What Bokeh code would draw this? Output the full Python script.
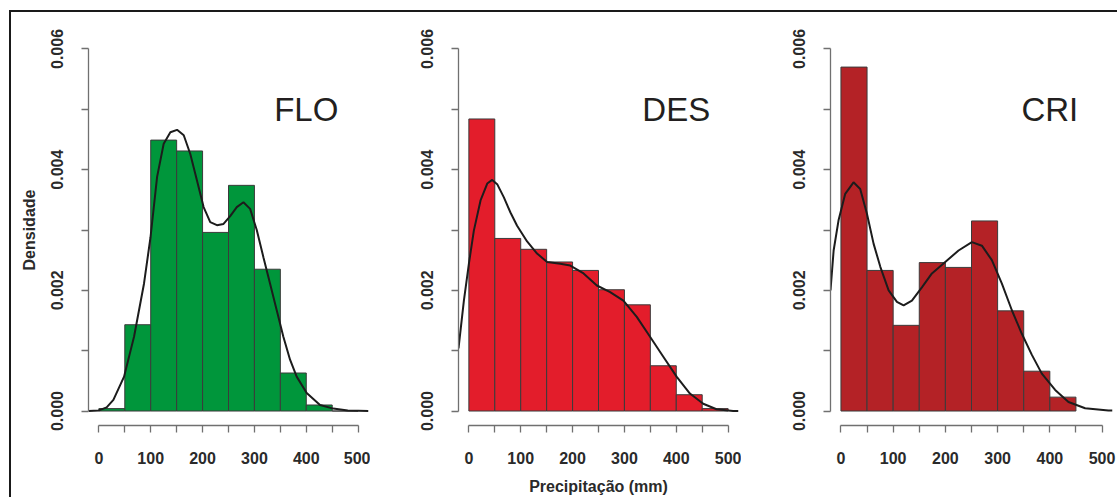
from bokeh.plotting import figure
from bokeh.layouts import row
from bokeh.models import Range1d, FixedTicker, PrintfTickFormatter
from bokeh.core.properties import value
from bokeh.embed import file_html
from bokeh.resources import INLINE

# ---------------- data ----------------
bin_left = [0, 50, 100, 150, 200, 250, 300, 350, 400, 450]
bin_right = [50, 100, 150, 200, 250, 300, 350, 400, 450, 500]

flo_hist = [0.00004, 0.00143, 0.00449, 0.00431, 0.00296, 0.00374, 0.00235, 0.00063, 0.00010, 0.0]
des_hist = [0.00484, 0.00286, 0.00268, 0.00247, 0.00233, 0.00201, 0.00176, 0.00075, 0.00027, 0.00004]
cri_hist = [0.00570, 0.00233, 0.00142, 0.00246, 0.00238, 0.00315, 0.00166, 0.00066, 0.00023]

flo_kde_x = [-20, 0, 15, 28, 48.6, 67.8, 87, 99.6, 112.3, 125, 137.9, 150.8, 163.7, 176.3, 189.2,
             202, 214.8, 227.7, 240.4, 253.3, 266, 278.8, 291.7, 304.5, 317.3, 330.2, 343,
             355.8, 368.7, 381.5, 400.8, 426.5, 452, 480, 520]
flo_kde_y = [0.0, 0.00001, 0.00006, 0.000185, 0.00057, 0.00123, 0.00211, 0.00288, 0.00388, 0.00443,
             0.00462, 0.00466, 0.00457, 0.00426, 0.00382, 0.00338, 0.00313, 0.00308, 0.00310,
             0.00323, 0.00338, 0.00346, 0.00335, 0.00300, 0.00255, 0.00211, 0.00167, 0.00123,
             0.00085, 0.00057, 0.00030, 0.00010, 0.00004, 0.00001, 0.0]

des_kde_x = [-20, -9.6, 0, 9.6, 22.5, 35.4, 45, 54.6, 67.5, 80.2, 93, 112.3, 131.5, 150.8, 176.3,
             195.6, 221.2, 246.8, 272.5, 298, 323.8, 349.4, 375, 400.6, 426.3, 452, 477.6, 509.6, 520]
des_kde_y = [0.00104, 0.00183, 0.00244, 0.00299, 0.00349, 0.00377, 0.00383, 0.00376, 0.00354,
             0.00329, 0.00307, 0.00281, 0.00261, 0.00247, 0.00244, 0.00241, 0.00228, 0.00208,
             0.00197, 0.00183, 0.00156, 0.00123, 0.00090, 0.00057, 0.00029, 0.00012, 0.00003,
             0.0, 0.0]

cri_kde_x = [-20, -14, -4.6, 8.2, 24.1, 36.9, 49.8, 62.6, 75.4, 91.3, 107.2, 120, 135.9, 155,
             174.2, 199.7, 225.2, 250.7, 269.9, 289, 308.2, 327.3, 346.4, 365.6, 384.7, 410.2,
             435.7, 467.6, 512.2, 520]
cri_kde_y = [0.00200, 0.00266, 0.00316, 0.00360, 0.00379, 0.00368, 0.00327, 0.00277, 0.00239,
             0.00200, 0.00181, 0.00175, 0.00183, 0.00205, 0.00228, 0.00247, 0.00266, 0.00280,
             0.00274, 0.00250, 0.00211, 0.00167, 0.00128, 0.00093, 0.00062, 0.00035, 0.00015,
             0.000045, 0.00001, 0.00001]

panel_names = ["FLO", "DES", "CRI"]
panel_colors = ["#00963b", "#e31d2b", "#b42226"]

x_major = [0, 100, 200, 300, 400, 500]
x_minor = [50, 150, 250, 350, 450]
y_major = [0.0, 0.002, 0.004, 0.006]
y_minor = [0.001, 0.003, 0.005]

FONT = "Liberation Sans"
AXIS_COL = "#707070"
TXT_COL = "#2a2a2a"
FRAME_COL = "#1a1a1a"


def make_panel(name, color, lefts, rights, dens, kx, ky, width, bl, br, ylab, xlab, first):
    p = figure(width=width, height=497,
               x_range=Range1d(-20, 520), y_range=Range1d(-0.00024, 0.00624),
               output_backend="svg", toolbar_location=None,
               min_border_left=bl, min_border_right=br,
               min_border_top=34, min_border_bottom=71)
    p.outline_line_color = None
    p.grid.visible = False
    p.background_fill_color = None
    p.border_fill_color = None

    p.quad(left=lefts[:len(dens)], right=rights[:len(dens)], bottom=0, top=dens,
           fill_color=color, line_color="#3b3b3b", line_width=1)
    p.line(kx, ky, line_color="#1c1c1c", line_width=2)
    p.text(x=[400], y=[0.005], text=[name], text_font=value(FONT),
           text_font_size="33px", text_align="center", text_baseline="middle",
           text_color="#231f20")

    xa = p.xaxis[0]
    xa.ticker = FixedTicker(ticks=x_major, minor_ticks=x_minor)
    xa.bounds = (0, 500)
    ya = p.yaxis[0]
    ya.ticker = FixedTicker(ticks=y_major, minor_ticks=y_minor)
    ya.bounds = (0, 0.006)
    ya.formatter = PrintfTickFormatter(format="%.3f")
    ya.major_label_orientation = "vertical"

    for ax in (xa, ya):
        ax.axis_line_color = AXIS_COL
        ax.axis_line_width = 1.3
        ax.major_tick_line_color = AXIS_COL
        ax.minor_tick_line_color = AXIS_COL
        ax.major_tick_line_width = 1.3
        ax.minor_tick_line_width = 1.3
        ax.major_tick_out = 7
        ax.major_tick_in = 0
        ax.minor_tick_out = 7
        ax.minor_tick_in = 0
        ax.major_label_text_font = FONT
        ax.major_label_text_font_size = "16px"
        ax.major_label_text_font_style = "bold"
        ax.major_label_text_color = TXT_COL
        ax.axis_label_text_font = FONT
        ax.axis_label_text_font_size = "16px"
        ax.axis_label_text_font_style = "bold"
        ax.axis_label_text_color = TXT_COL
    xa.major_label_standoff = 19
    ya.major_label_standoff = 18
    xa.axis_label_standoff = 11
    ya.axis_label_standoff = 11
    if ylab:
        ya.axis_label = ylab
    if xlab:
        xa.axis_label = xlab

    # outer frame of the whole figure: top line everywhere, left line on the first panel
    grad = f"linear-gradient({FRAME_COL}, {FRAME_COL})"
    if first:
        bg = (f"{grad} 9px 10px / {width}px 2px no-repeat, "
              f"{grad} 9px 10px / 2px 500px no-repeat, white")
    else:
        bg = f"{grad} 0px 10px / {width}px 2px no-repeat, white"
    p.styles = {"background": bg}
    return p


p1 = make_panel(panel_names[0], panel_colors[0], bin_left, bin_right, flo_hist,
                flo_kde_x, flo_kde_y, 370, 88, 2, "Densidade", None, True)
p2 = make_panel(panel_names[1], panel_colors[1], bin_left, bin_right, des_hist,
                des_kde_x, des_kde_y, 371, 88, 3, None, "Precipitação (mm)", False)
p3 = make_panel(panel_names[2], panel_colors[2], bin_left, bin_right, cri_hist,
                cri_kde_x, cri_kde_y, 376, 89, 5, None, None, False)

layout = row(p1, p2, p3, spacing=0)
open("out.html", "w").write(file_html(layout, INLINE))
